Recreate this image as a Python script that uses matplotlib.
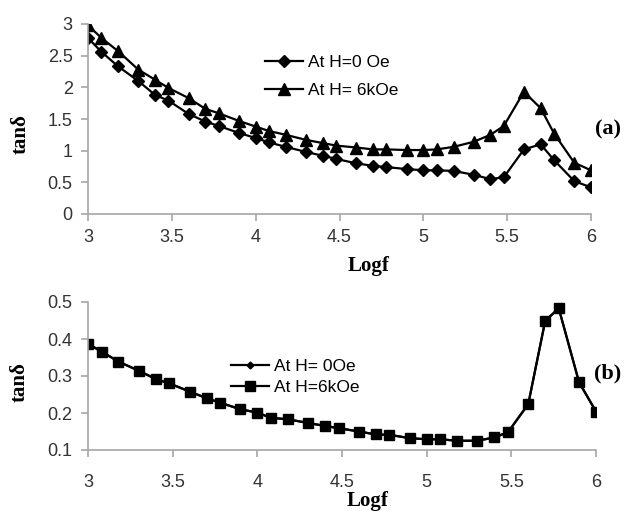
import numpy as np
import matplotlib
matplotlib.use('Agg')
import matplotlib.pyplot as plt

# log f points (1, 1.2, 1.5, 2, 2.5, 3, 4, 5, 6, 8 per decade)
logf = [3.0, 3.08, 3.18, 3.3, 3.4, 3.48, 3.6, 3.7, 3.78, 3.9,
        4.0, 4.08, 4.18, 4.3, 4.4, 4.48, 4.6, 4.7, 4.78, 4.9,
        5.0, 5.08, 5.18, 5.3, 5.4, 5.48, 5.6, 5.7, 5.78, 5.9, 6.0]

# panel (a)
tan_a_0 = [2.78, 2.56, 2.33, 2.10, 1.88, 1.79, 1.58, 1.46, 1.39, 1.28,
           1.20, 1.13, 1.06, 0.98, 0.92, 0.87, 0.80, 0.76, 0.74, 0.71,
           0.69, 0.69, 0.68, 0.62, 0.55, 0.58, 1.02, 1.10, 0.85, 0.52, 0.42]
tan_a_6k = [2.98, 2.78, 2.57, 2.28, 2.12, 1.99, 1.83, 1.66, 1.59, 1.47,
            1.38, 1.31, 1.25, 1.17, 1.12, 1.08, 1.05, 1.02, 1.02, 1.01,
            1.01, 1.02, 1.06, 1.14, 1.25, 1.39, 1.93, 1.67, 1.27, 0.81, 0.69]

# panel (b)
tan_b_0 = [0.387, 0.366, 0.339, 0.314, 0.292, 0.280, 0.258, 0.240, 0.228, 0.210,
           0.201, 0.187, 0.183, 0.173, 0.165, 0.159, 0.150, 0.142, 0.141, 0.132,
           0.129, 0.129, 0.125, 0.125, 0.134, 0.148, 0.224, 0.449, 0.483, 0.283, 0.204]
tan_b_6k = [0.387, 0.366, 0.339, 0.314, 0.292, 0.280, 0.258, 0.240, 0.228, 0.210,
            0.201, 0.187, 0.183, 0.173, 0.165, 0.159, 0.150, 0.142, 0.141, 0.132,
            0.129, 0.129, 0.125, 0.125, 0.134, 0.148, 0.224, 0.449, 0.483, 0.283, 0.204]

xticks = [3, 3.5, 4, 4.5, 5, 5.5, 6]
xticklabels = ['3', '3.5', '4', '4.5', '5', '5.5', '6']

plt.rcParams['font.family'] = ['Liberation Sans', 'DejaVu Sans']
W, H = 627, 513
fig = plt.figure(figsize=(W / 100, H / 100), dpi=100)

ax1 = fig.add_axes([88 / W, 1 - 214 / H, 503 / W, 190 / H])
ax2 = fig.add_axes([88 / W, 1 - 450 / H, 508 / W, 148 / H])

serif = {'family': ['Liberation Serif', 'DejaVu Serif'], 'weight': 'bold'}

ax1.plot(logf, tan_a_0, '-D', color='black', lw=1.6, ms=6, label='At H=0 Oe')
ax1.plot(logf, tan_a_6k, '-^', color='black', lw=1.6, ms=8, label='At H= 6kOe')
ax1.set_xlim(3, 6)
ax1.set_ylim(0, 3)
ax1.set_xticks(xticks)
ax1.set_xticklabels(xticklabels)
ax1.set_yticks(np.arange(0, 3.01, 0.5))
ax1.set_yticklabels(['0', '0.5', '1', '1.5', '2', '2.5', '3'])
ax1.legend(loc='upper left', bbox_to_anchor=(0.32, 0.92), frameon=False,
           fontsize=12.5, handlelength=2.2, handletextpad=0.3, labelspacing=0.75)
ax1.text(1.008, 0.42, '(a)', transform=ax1.transAxes, fontsize=16, **serif)

ax2.plot(logf, tan_b_0, '-D', color='black', lw=1.6, ms=3.5, label='At H= 0Oe')
ax2.plot(logf, tan_b_6k, '-s', color='black', lw=1.6, ms=7, label='At H=6kOe')
ax2.set_xlim(3, 6)
ax2.set_ylim(0.1, 0.5)
ax2.set_xticks(xticks)
ax2.set_xticklabels(xticklabels)
ax2.set_yticks([0.1, 0.2, 0.3, 0.4, 0.5])
ax2.legend(loc='upper left', bbox_to_anchor=(0.25, 0.72), frameon=False,
           fontsize=12.5, handlelength=2.2, handletextpad=0.3, labelspacing=0.3)
ax2.text(0.997, 0.48, '(b)', transform=ax2.transAxes, fontsize=16, **serif)

for ax in (ax1, ax2):
    for s in ('top', 'right'):
        ax.spines[s].set_visible(False)
    for s in ('left', 'bottom'):
        ax.spines[s].set_color('#a6a6a6')
        ax.spines[s].set_linewidth(1.2)
    ax.tick_params(direction='out', length=5, color='#a6a6a6', width=1.2,
                   labelsize=13, labelcolor='#333333', pad=6)
    ax.set_xlabel('Logf', fontsize=15, **serif)
    ax.set_ylabel('tanδ', fontsize=15, **serif)

ax2.tick_params(axis='x', pad=12)
ax1.xaxis.set_label_coords(0.557, -0.22)
ax2.xaxis.set_label_coords(0.55, -0.275)
ax1.yaxis.set_label_coords(-0.115, 0.42)
ax2.yaxis.set_label_coords(-0.115, 0.46)

fig.savefig('out.png', dpi=100)
